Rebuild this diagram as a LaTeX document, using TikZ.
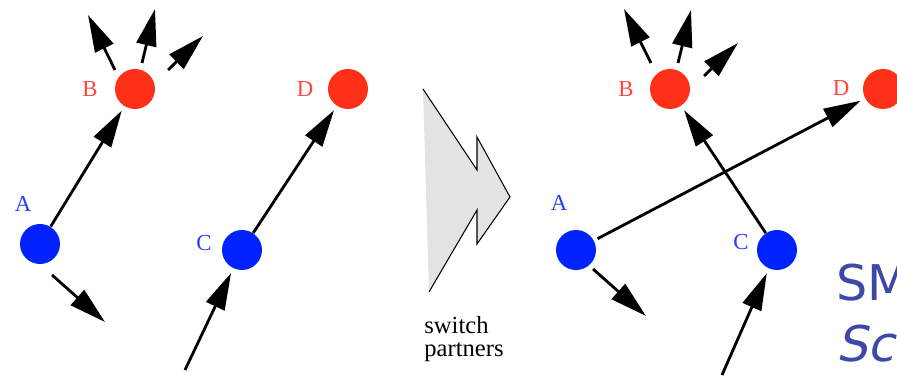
\documentclass[tikz,border=0pt]{standalone}
\usepackage{fontspec}
\setmainfont{Liberation Serif}
\newfontfamily\slidefont{DejaVu Sans}
\newfontfamily\slideit{DejaVu Sans}[FakeSlant=0.22]
\usetikzlibrary{arrows.meta,calc}
\definecolor{ptred}{RGB}{255,48,24}
\definecolor{ptblue}{RGB}{0,34,255}
\definecolor{lblred}{RGB}{255,72,60}
\definecolor{lblblue}{RGB}{40,60,255}
\definecolor{slide}{RGB}{62,72,165}

\begin{document}
\begin{tikzpicture}[x=0.02cm, y=-0.02cm,
  every node/.style={font=\fontsize{13}{15}\selectfont},
  ball/.style={circle, minimum size=0.8cm, inner sep=0pt},
  redball/.style={ball, fill=ptred},
  blueball/.style={ball, fill=ptblue},
  redlbl/.style={text=lblred, inner sep=0pt},
  bluelbl/.style={text=lblblue, inner sep=0pt},
  arr/.style={line width=1.6pt, -{Triangle[length=0.74cm, width=0.4cm]}},
  tonode/.style={arr, shorten >=0.1cm}
]
\useasboundingbox (0,0) rectangle (897,377);
\clip (0,0) rectangle (897,377);

% before
\node[blueball] (la) at (40,244) {};
\node[redball] (lb) at (135,89) {};
\node[blueball] (lc) at (242,250) {};
\node[redball] (ld) at (348,89) {};
\node[bluelbl] (la-l) at (23,204) {A};
\node[redlbl] (lb-l) at (90,89) {B};
\node[bluelbl] (lc-l) at (204,243) {C};
\node[redlbl] (ld-l) at (305,89) {D};

\coordinate (lb1) at (88,15);
\coordinate (lb2) at (155,9);
\coordinate (lb3) at (203,36);
\coordinate (la1) at (105,322);
\coordinate (lc0) at (185,370);

\draw[tonode] (la) -- (lb);
\draw[tonode] (lc) -- (ld);
\draw[tonode] (lc0) -- (lc);
\draw[arr] ($(la)+(12,31)$) -- (la1);
\draw[arr] ($(lb)+(-20,-19)$) -- (lb1);
\draw[arr] ($(lb)+(7,-26)$) -- (lb2);
\draw[arr] ($(lb)+(33,-19)$) -- (lb3);

% switch arrow
\fill[gray!22] (423,89) -- (477,170) -- (477,137) -- (510,197) -- (477,244)
  -- (477,210) -- (429,292) -- cycle;
\draw[line width=0.6pt] (423,89) -- (477,170) -- (477,137) -- (510,197)
  -- (477,244) -- (477,210) -- (429,292);
\node[anchor=north west, align=left, inner sep=0pt,
  font=\fontsize{14}{13}\selectfont] (sw) at (424,316) {switch\\partners};

% after
\node[blueball] (ra) at (576,250) {};
\node[redball] (rb) at (670,89) {};
\node[blueball] (rc) at (777,250) {};
\node[redball] (rd) at (883,89) {};
\node[bluelbl] (ra-l) at (559,203) {A};
\node[redlbl] (rb-l) at (626,89) {B};
\node[bluelbl] (rc-l) at (741,242) {C};
\node[redlbl] (rd-l) at (841,88) {D};

\coordinate (rb1) at (624,9);
\coordinate (rb2) at (691,10);
\coordinate (rb3) at (738,43);
\coordinate (ra1) at (646,316);
\coordinate (rc0) at (722,375);

\draw[tonode, shorten <=0.08cm] (ra) -- (rd);
\draw[tonode] (rc) -- (rb);
\draw[tonode] (rc0) -- (rc);
\draw[arr] ($(ra)+(17,19)$) -- (ra1);
\draw[arr] ($(rb)+(-19,-26)$) -- (rb1);
\draw[arr] ($(rb)+(8,-26)$) -- (rb2);
\draw[arr] ($(rb)+(34,-13)$) -- (rb3);

\node[anchor=base west, inner sep=0pt, text=slide,
  font=\slidefont\fontsize{28}{30}\selectfont] (sm) at (836,301) {SM};
\node[anchor=base west, inner sep=0pt, text=slide,
  font=\slideit\fontsize{28}{30}\selectfont] (sc) at (836,362) {Sc};
\end{tikzpicture}
\end{document}
